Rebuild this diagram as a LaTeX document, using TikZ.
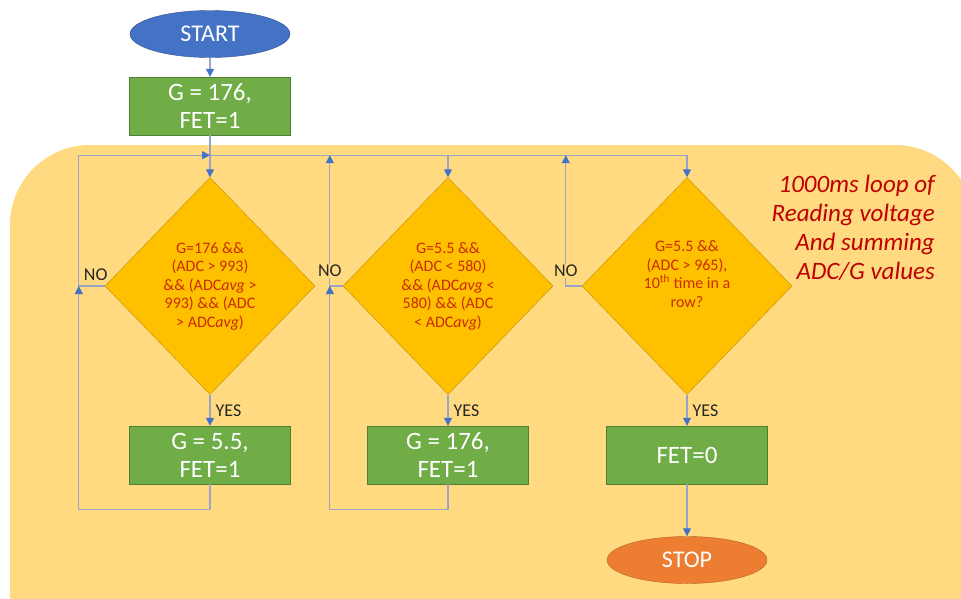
\documentclass[tikz,border=0pt]{standalone}
\usepackage{fontspec}
\setmainfont{Carlito}
\usetikzlibrary{shapes.geometric,positioning,arrows.meta}
\definecolor{bgyellow}{RGB}{255,218,128}
\definecolor{decgold}{RGB}{255,192,0}
\definecolor{decedge}{RGB}{191,144,0}
\definecolor{dectext}{RGB}{200,45,0}
\definecolor{boxgreen}{RGB}{112,173,71}
\definecolor{boxedge}{RGB}{80,126,50}
\definecolor{startblue}{RGB}{68,114,196}
\definecolor{stoporange}{RGB}{237,125,49}
\definecolor{linecol}{RGB}{150,166,196}
\definecolor{notered}{RGB}{192,0,0}

\begin{document}
\begin{tikzpicture}[x=1pt,y=1pt,node distance=72pt,on grid,
		terminal/.style={ellipse,text=white,minimum width=160pt,minimum height=47pt,inner sep=0pt,font=\fontsize{24}{28}\selectfont},
		process/.style={rectangle,draw=boxedge,fill=boxgreen,text=white,minimum width=161pt,minimum height=58pt,inner sep=0pt,align=center,font=\fontsize{25}{28}\selectfont},
		decision/.style={diamond,draw=decedge,fill=decgold,text=dectext,minimum width=210pt,minimum height=217pt,inner sep=0pt,align=center,font=\fontsize{16}{18.5}\selectfont},
		link/.style={draw=linecol,line width=1.3pt},
		flow/.style={link,-{Triangle[length=8pt,width=8pt,color=startblue]}},
		lbl/.style={font=\fontsize{18}{20}\selectfont,text=black!85,inner sep=1pt},
		note/.style={align=right,text=notered,inner sep=0pt,font=\fontsize{25}{29}\itshape\selectfont}]
			\useasboundingbox (0,0) rectangle (961,-598);
			\fill[bgyellow,rounded corners=80pt] (10,-145) rectangle (975,-680);

			\node[terminal,fill=startblue,draw=startblue!70!black] (start) at (210,-34) {START};
			\node[process] (init) [below=of start] {G = 176,\\FET=1};
			\node[decision] (dec1) [below=180pt of init] {G=176 \&\&\\(ADC > 993)\\\&\& (ADC\textit{avg} >\\993) \&\& (ADC\\> ADC\textit{avg})};
			\node[process] (set1) [below=169pt of dec1] {G = 5.5,\\FET=1};
			\node[decision] (dec2) [right=238pt of dec1] {G=5.5 \&\&\\(ADC < 580)\\\&\& (ADC\textit{avg} <\\580) \&\& (ADC\\< ADC\textit{avg})};
			\node[process] (set2) [below=169pt of dec2] {G = 176,\\FET=1};
			\node[decision] (dec3) [right=239pt of dec2] {G=5.5 \&\&\\(ADC > 965),\\10\textsuperscript{th} time in a\\row?\\[5pt]};
			\node[process] (fetoff) [below=169pt of dec3] {FET=0};
			\node[terminal,fill=stoporange,draw=stoporange!75!black] (stop) [below=105pt of fetoff] {STOP};
			\node[note,anchor=north east] (loopnote) at (935,-175) {1000ms loop of\\Reading voltage\\And summing\\ADC/G values};

			\coordinate[below=20pt of init.south] (split);
			\coordinate[left=26pt of dec1.west] (noA);
			\coordinate[left=13pt of dec2.west] (noB);
			\coordinate[left=16pt of dec3.west] (noC);
			\coordinate[below=25pt of set1.south] (backA);
			\coordinate[below=25pt of set2.south] (backB);

			\draw[flow] (start) -- (init);
			\draw[flow] (init) -- (dec1);
			\draw[flow] (split) -| (dec3);
			\draw[flow] (split -| dec2.north) -- (dec2);
			\draw[flow] (dec1.west) -- node[lbl,above=4pt,pos=0.35] {NO} (noA) |- (split);
			\draw[flow] (dec2.west) -- (noB) -- (noB |- split);
			\draw[flow] (dec3.west) -- (noC) -- (noC |- split);
			\draw[flow] (set1.south) -- (backA) -| (noA);
			\draw[flow] (set2.south) -- (backB) -| (noB);
			\draw[flow] (dec1) -- node[lbl,right=4pt] {YES} (set1);
			\draw[flow] (dec2) -- node[lbl,right=4pt] {YES} (set2);
			\draw[flow] (dec3) -- node[lbl,right=4pt] {YES} (fetoff);
			\draw[flow] (fetoff) -- (stop);
			\node[lbl,fill=bgyellow,anchor=center] (no2) at ([yshift=15pt]noB) {NO};
			\node[lbl,fill=bgyellow,anchor=center] (no3) at ([yshift=15pt]noC) {NO};
		\end{tikzpicture}
\end{document}
